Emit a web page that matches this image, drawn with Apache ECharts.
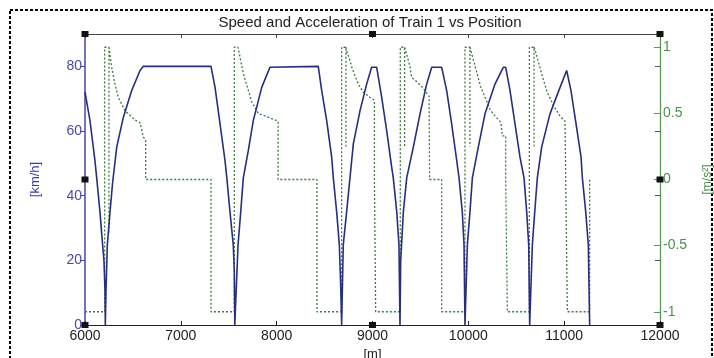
<!DOCTYPE html>
<html>
<head>
<meta charset="utf-8">
<script src="https://cdn.jsdelivr.net/npm/echarts@6/dist/echarts.min.js"></script>
<style>
  html, body { margin: 0; padding: 0; background: #fff; }
  #chart { width: 714px; height: 358px; }
</style>
</head>
<body>
<div id="chart"></div>
<script>
// speed of train 1 [km/h] against position [m]
var speedPos = [
  6000, 6052, 6104, 6122, 6156, 6184, 6198, 6209, 6212,
  6219, 6233, 6261, 6288, 6331, 6400, 6487, 6574, 6609, 7315, 7357, 7409, 7461, 7480, 7513, 7547, 7558, 7563,
  7597, 7625, 7652, 7704, 7756, 7844, 7930, 8434, 8470, 8522, 8574, 8591, 8626, 8654, 8668, 8678,
  8695, 8730, 8765, 8800, 8870, 8939, 8991, 9044, 9096, 9148, 9200, 9217, 9253, 9276, 9287,
  9294, 9322, 9357, 9426, 9496, 9565, 9618, 9722, 9774, 9826, 9879, 9903, 9937, 9955, 9965,
  9990, 10017, 10042, 10104, 10174, 10278, 10365, 10390, 10435, 10487, 10539, 10581, 10609, 10630, 10640,
  10668, 10693, 10720, 10765, 10852, 10957, 11026, 11071, 11124, 11176, 11190, 11225, 11252, 11266
];
var speedKmh = [
  72, 63.2, 50.8, 45.5, 35, 24.8, 19.8, 10.5, 0,
  10.5, 24.8, 35, 44, 55, 64.2, 72.5, 78.7, 80, 80, 73.5, 62.2, 50.8, 45.5, 35, 24.8, 16.7, 0,
  24.8, 35, 45.5, 53.9, 63.2, 73.5, 79.7, 80, 72.5, 63.2, 51.9, 45.5, 35, 24.8, 12.4, 0,
  24.8, 35, 45.5, 56, 66.3, 74.5, 79.7, 79.7, 70.4, 60.1, 48.8, 45.5, 35, 24.8, 0,
  19.8, 35, 45.5, 55, 65.3, 74.5, 79.7, 79.7, 72.5, 62.2, 50.8, 45.5, 35, 24.8, 0,
  24.8, 35, 45.5, 55, 65.3, 74.5, 79.7, 79.7, 72.5, 62.2, 51.9, 45.5, 35, 24.8, 0,
  24.8, 35, 45.5, 55, 65.3, 73.5, 78.7, 72.5, 62.2, 51.9, 45.5, 35, 24.8, 0
];

// acceleration [m/s^2] against position [m]; null = pen up
var accPos = [
  6000, 6205, 6205, 6250, 6250, 6250, 6250, 6278, 6313, 6348, 6417, 6522, 6574, 6609, 6633, 6633, 7315, 7315,
  7558, 7558, 7597, 7652, 7739, 7808, 7913, 8015, 8015, 8420, 8420,
  8678, 8678, 8723, 8723, 8723, 8723, 8730, 8765, 8783, 8852, 8904, 8974, 9020, 9020, 9033, 9033,
  9290, 9290, 9335, 9335, 9335, 9335, 9374, 9391, 9409, 9461, 9530, 9590, 9596, 9596, 9722, 9722,
  9965, 9965, 10017, 10017, 10017, 10017, 10024, 10129, 10233, 10340, 10355, 10390, 10390, 10407, 10407,
  10637, 10637, 10686, 10686, 10686, 10686, 10696, 10765, 10818, 10887, 10957, 11009, 11016, 11016, 11033, 11033,
  11266, 11266
];
var accMs2 = [
  -1, -1, 1, 1, -0.4, null, 1, 0.85, 0.72, 0.62, 0.52, 0.45, 0.43, 0.32, 0.30, 0, 0, -1,
  -1, 1, 1, 0.8, 0.59, 0.50, 0.47, 0.44, 0, 0, -1,
  -1, 1, 1, 0.25, null, 1, 0.97, 0.90, 0.85, 0.72, 0.66, 0.62, 0.60, 0, 0, -1,
  -1, 1, 1, 0.25, null, 1, 0.90, 0.85, 0.77, 0.74, 0.69, 0.63, 0.62, 0, 0, -1,
  -1, 1, 1, 0.25, null, 1, 0.99, 0.70, 0.52, 0.43, 0.33, 0.33, 0, 0, -1,
  -1, 1, 1, 0.25, null, 1, 0.98, 0.80, 0.67, 0.56, 0.48, 0.44, 0.44, 0, 0, -1,
  -1, 0
];

var speedTicks = [0, 20, 40, 60, 80];
var speedMirrorTicks = [20, 40, 60, 80];
var accTicks = [-1, -0.5, 0, 0.5, 1];

// plot box (matches the matlab figure)
var G = { left: 85, top: 34, right: 660, bottom: 325 };

function zip(a, b) {
  var out = [];
  for (var i = 0; i < a.length; i++) out.push([a[i], b[i] === null ? '-' : b[i]]);
  return out;
}

var handles = [];
var hx = [G.left, (G.left + G.right) / 2, G.right];
var hy = [G.top, (G.top + G.bottom) / 2, G.bottom];
hx.forEach(function (x, i) {
  hy.forEach(function (y, j) {
    if (i === 1 && j === 1) return;
    handles.push({
      type: 'rect',
      shape: { x: x - 3.5, y: y - 3, width: 7, height: 6 },
      style: { fill: '#111' },
      z: 100
    });
  });
});

var chart = echarts.init(document.getElementById('chart'));
var font = 'Liberation Sans';
var blue = '#262f7e';
var green = '#3d7a3d';

var option = {
  animation: false,
  backgroundColor: '#fff',
  title: {
    text: 'Speed and Acceleration of Train 1 vs Position',
    left: 370,
    top: 15,
    textAlign: 'center',
    padding: 0,
    textStyle: { fontFamily: font, fontSize: 15, fontWeight: 'normal', color: '#222' }
  },
  grid: {
    left: G.left, top: G.top, right: 714 - G.right, bottom: 358 - G.bottom,
    containLabel: false,
    outerBoundsMode: 'none'
  },
  xAxis: [{
    type: 'value',
    position: 'bottom',
    min: 6000, max: 12000, interval: 1000,
    name: '[m]', nameLocation: 'middle', nameGap: 17,
    nameTextStyle: { fontFamily: font, fontSize: 13, color: '#222' },
    axisLine: { show: true, onZero: false, lineStyle: { color: '#222', width: 1 } },
    axisTick: { show: true, inside: true, length: 4, lineStyle: { color: '#222' } },
    axisLabel: { fontFamily: font, fontSize: 14, color: '#222', margin: 4, formatter: function (v) { return String(v); } },
    splitLine: { show: false }
  }, {
    type: 'value',
    position: 'top',
    min: 6000, max: 12000, interval: 1000,
    axisLine: { show: true, onZero: false, lineStyle: { color: '#444', width: 1 } },
    axisTick: { show: true, inside: true, length: 4, lineStyle: { color: '#444' } },
    axisLabel: { show: false },
    splitLine: { show: false }
  }],
  yAxis: [{
    type: 'value',
    position: 'left',
    min: 0, max: 90,
    name: '[km/h]', nameLocation: 'middle', nameGap: 43, nameRotate: 90,
    nameTextStyle: { fontFamily: font, fontSize: 13, color: '#3a3aa8' },
    axisLine: { show: true, onZero: false, lineStyle: { color: '#4545aa', width: 1.5 } },
    axisTick: { show: true, inside: false, length: 5, customValues: speedTicks, lineStyle: { color: '#4545aa' } },
    axisLabel: { customValues: speedTicks, fontFamily: font, fontSize: 14, color: '#4a4aa6', margin: 3 },
    splitLine: { show: false }
  }, {
    type: 'value',
    position: 'right',
    min: -1.1, max: 1.1,
    name: '[m/s²]', nameLocation: 'middle', nameGap: 42, nameRotate: 90,
    nameTextStyle: { fontFamily: font, fontSize: 12, color: '#4a8a4a' },
    axisLine: { show: true, onZero: false, lineStyle: { color: '#5a985a', width: 1.3 } },
    axisTick: { show: true, inside: true, length: 6, customValues: accTicks, lineStyle: { color: '#5a985a' } },
    axisLabel: { customValues: accTicks, fontFamily: font, fontSize: 14, color: '#4f8f4f', margin: 3 },
    splitLine: { show: false }
  }, {
    type: 'value',
    position: 'right',
    offset: 0,
    min: 0, max: 90,
    axisLine: { show: false },
    axisTick: { show: true, inside: true, length: 5, customValues: speedMirrorTicks, lineStyle: { color: '#555' } },
    axisLabel: { show: false },
    splitLine: { show: false }
  }],
  series: [{
    name: 'acceleration',
    type: 'line',
    xAxisIndex: 0,
    yAxisIndex: 1,
    data: zip(accPos, accMs2),
    showSymbol: false,
    symbol: 'none',
    connectNulls: false,
    lineStyle: { color: green, width: 1.3, type: [2, 2] },
    z: 2
  }, {
    name: 'speed',
    type: 'line',
    xAxisIndex: 0,
    yAxisIndex: 0,
    data: zip(speedPos, speedKmh),
    showSymbol: false,
    symbol: 'none',
    lineStyle: { color: blue, width: 1.6 },
    z: 3
  }],
  graphic: [{
    type: 'rect',
    shape: { x: 10, y: 10, width: 702, height: 350 },
    style: { fill: 'none', stroke: '#000', lineWidth: 2, lineDash: [3, 2] },
    silent: true
  }].concat(handles)
};

chart.setOption(option);
</script>
</body>
</html>
